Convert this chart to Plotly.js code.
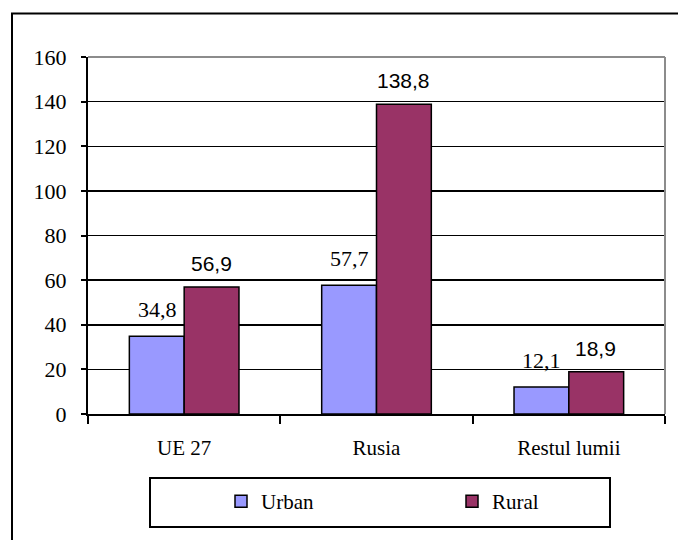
<!DOCTYPE html>
<html>
<head>
<meta charset="utf-8">
<script src="https://cdn.plot.ly/plotly-3.0.1.min.js"></script>
<style>html,body{margin:0;padding:0;background:#fff;}#chart{width:678px;height:540px;}</style>
</head>
<body>
<div id="chart"></div>
<script>
const categories = ["UE 27", "Rusia", "Restul lumii"];
const urbanValues = [34.8, 57.7, 12.1];
const ruralValues = [56.9, 138.8, 18.9];
const urbanLabels = ["34,8", "57,7", "12,1"];
const ruralLabels = ["56,9", "138,8", "18,9"];
const yTicks = [0, 20, 40, 60, 80, 100, 120, 140, 160];

const serif = "'Liberation Serif', 'Times New Roman', 'DejaVu Serif', serif";
const sans = "'Liberation Sans', Arial, sans-serif";

const traces = [
  {type: "bar", name: "Urban", x: categories, y: urbanValues,
   marker: {color: "#9999FF", line: {color: "#000", width: 1.5}}, hoverinfo: "none"},
  {type: "bar", name: "Rural", x: categories, y: ruralValues,
   marker: {color: "#993366", line: {color: "#000", width: 1.5}}, hoverinfo: "none"}
];

const annotations = [];
categories.forEach((c, i) => {
  annotations.push({x: c, y: urbanValues[i], xref: "x", yref: "y", text: urbanLabels[i],
    showarrow: false, xshift: -27, yshift: 12, yanchor: "bottom",
    font: {family: serif, size: 22, color: "#000"}});
  annotations.push({x: c, y: ruralValues[i], xref: "x", yref: "y", text: ruralLabels[i],
    showarrow: false, xshift: 27, yshift: 10, yanchor: "bottom",
    font: {family: sans, size: 21, color: "#000"}});
});

const layout = {
  width: 678, height: 540,
  margin: {l: 88, r: 13, t: 57, b: 126, autoexpand: false},
  paper_bgcolor: "#fff", plot_bgcolor: "#fff",
  barmode: "group", bargap: 0.43, bargroupgap: 0,
  showlegend: true,
  legend: {orientation: "h", x: (221 - 88) / 577, xanchor: "left", y: -0.188, yanchor: "top",
    font: {family: serif, size: 21, color: "#000"}, bgcolor: "rgba(0,0,0,0)",
    borderwidth: 0, entrywidth: 186, traceorder: "normal"},
  xaxis: {type: "category", showline: true, linecolor: "#000", linewidth: 2,
    ticks: "outside", ticklen: 8, tickcolor: "#000", tickwidth: 2,
    tickson: "boundaries", showgrid: false, zeroline: false,
    tickfont: {family: serif, size: 21, color: "#000"}, ticklabelstandoff: 14},
  yaxis: {range: [0, 160], tickvals: yTicks, showline: true, linecolor: "#000", linewidth: 2,
    ticks: "outside", ticklen: 5, tickcolor: "#000", tickwidth: 2,
    showgrid: true, gridcolor: "#000", gridwidth: 1.5, zeroline: false,
    tickfont: {family: serif, size: 22, color: "#000"}, ticklabelstandoff: 10},
  annotations: annotations,
  shapes: [
    {type: "line", xref: "paper", yref: "paper", x0: 0, x1: 1, y0: 1, y1: 1,
     line: {color: "#8c8c8c", width: 2}, layer: "above"},
    {type: "line", xref: "paper", yref: "paper", x0: 1, x1: 1, y0: 0, y1: 1,
     line: {color: "#8c8c8c", width: 2}, layer: "above"},
    {type: "rect", xref: "paper", yref: "paper",
     x0: (150 - 88) / 577, x1: (610 - 88) / 577, y0: (414 - 527) / 357, y1: (414 - 478) / 357,
     line: {color: "#000", width: 2}, fillcolor: "rgba(0,0,0,0)"},
    {type: "rect", xref: "paper", yref: "paper",
     x0: (12 - 88) / 577, x1: (720 - 88) / 577, y0: (414 - 600) / 357, y1: (414 - 13.5) / 357,
     line: {color: "#000", width: 2}, fillcolor: "rgba(0,0,0,0)"}
  ]
};

Plotly.newPlot("chart", traces, layout, {staticPlot: true, displayModeBar: false});
</script>
</body>
</html>
